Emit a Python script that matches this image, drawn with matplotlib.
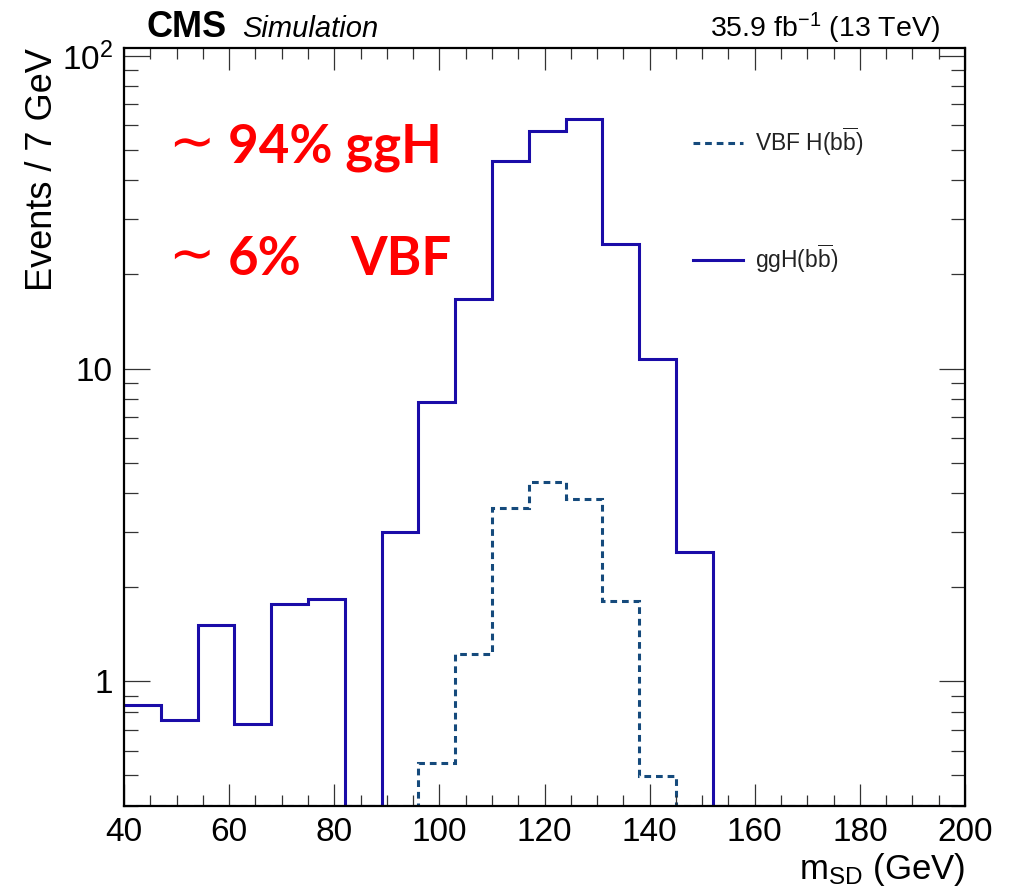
import numpy as np
import matplotlib
matplotlib.use('Agg')
import matplotlib.pyplot as plt
from matplotlib.ticker import FixedLocator, FixedFormatter, MultipleLocator, LogLocator, NullFormatter

plt.rcParams['font.family'] = ['Liberation Sans', 'DejaVu Sans']
plt.rcParams['mathtext.fontset'] = 'custom'
plt.rcParams['mathtext.rm'] = 'Liberation Sans'
plt.rcParams['mathtext.it'] = 'Liberation Sans:italic'
plt.rcParams['mathtext.bf'] = 'Liberation Sans:bold'

# binning: 7 GeV bins starting at 40
edges = np.arange(40, 202, 7)
# ggH(bb) yields per bin (0 = empty)
ggH = [0.838, 0.749, 1.51, 0.732, 1.76, 1.83, 0.0, 3.01, 7.83, 16.7, 46.3, 57.4,
       62.9, 25.0, 10.7, 2.60, 0.0, 0.0, 0.0, 0.0, 0.0, 0.0, 0.0]
# VBF H(bb) yields per bin
vbf = [0.0, 0.0, 0.0, 0.0, 0.0, 0.0, 0.0, 0.0, 0.548, 1.22, 3.58, 4.33,
       3.83, 1.80, 0.497, 0.0, 0.0, 0.0, 0.0, 0.0, 0.0, 0.0, 0.0]

ymin, ymax = 0.4, 106

fig = plt.figure(figsize=(10.09, 8.93), dpi=100)
ax = fig.add_axes([0.1229, 0.0978, 0.8335, 0.8484])

ax.set_yscale('log')
ax.stairs(np.maximum(vbf, ymin), edges, color='#154a7c', lw=2.2, ls=(0, (2.2, 1.6)),
          baseline=None, label=r'VBF H(b$\overline{\mathrm{b}}$)')
ax.stairs(np.maximum(ggH, ymin), edges, color='#1a0ca8', lw=2.2,
          baseline=None, label=r'ggH(b$\overline{\mathrm{b}}$)')

ax.set_xlim(40, 200)
ax.set_ylim(ymin, ymax)

ax.xaxis.set_major_locator(MultipleLocator(20))
ax.xaxis.set_minor_locator(MultipleLocator(5))
ax.yaxis.set_major_locator(FixedLocator([1, 10, 100]))
ax.yaxis.set_major_formatter(FixedFormatter(['1', '10', r'$10^2$']))
ax.yaxis.set_minor_locator(LogLocator(base=10, subs=np.arange(2, 10)))
ax.yaxis.set_minor_formatter(NullFormatter())

ax.tick_params(axis='both', which='both', direction='in', top=True, right=True,
               color='#333333', width=0.9, labelsize=24)
ax.tick_params(axis='x', which='major', length=16, pad=8)
ax.tick_params(axis='x', which='minor', length=8)
ax.tick_params(axis='y', which='major', length=19, pad=8)
ax.tick_params(axis='y', which='minor', length=10)
for s in ax.spines.values():
    s.set_linewidth(1.6)

ax.set_xlabel(r'm$_{\mathrm{SD}}$ (GeV)', fontsize=25, loc='right', labelpad=2)
ax.set_ylabel('Events / 7 GeV', fontsize=26, loc='top', labelpad=1)

leg = ax.legend(loc='upper left', bbox_to_anchor=(693 / 1009, 1 - 125 / 893),
                bbox_transform=fig.transFigure, frameon=False, fontsize=16.5,
                handlelength=2.2, handletextpad=0.5, labelspacing=3.7,
                borderpad=0, borderaxespad=0)
for t in leg.get_texts():
    t.set_color('#222222')

fig.text(147 / 1009, 1 - 37 / 893, 'CMS', fontsize=26, fontweight='bold', va='baseline')
fig.text(242 / 1009, 1 - 37 / 893, 'Simulation', fontsize=21, style='italic', va='baseline')
fig.text(940 / 1009, 1 - 37 / 893, r'35.9 fb$^{-1}$ (13 TeV)', fontsize=20.5,
         ha='right', va='baseline')

red = '#ff0000'
fig.text(168 / 1009, 1 - 160 / 893, '\u223c', fontsize=40, color=red, va='baseline',
         family='DejaVu Sans')
fig.text(228 / 1009, 1 - 163 / 893, '94% ggH', fontsize=38, color=red,
         fontweight='bold', va='baseline', family='Lato')
fig.text(168 / 1009, 1 - 272 / 893, '\u223c', fontsize=40, color=red, va='baseline',
         family='DejaVu Sans')
fig.text(228 / 1009, 1 - 275 / 893, '6%', fontsize=38, color=red,
         fontweight='bold', va='baseline', family='Lato')
fig.text(350 / 1009, 1 - 275 / 893, 'VBF', fontsize=38, color=red,
         fontweight='bold', va='baseline', family='Lato')

fig.savefig('out.png', dpi=100)
